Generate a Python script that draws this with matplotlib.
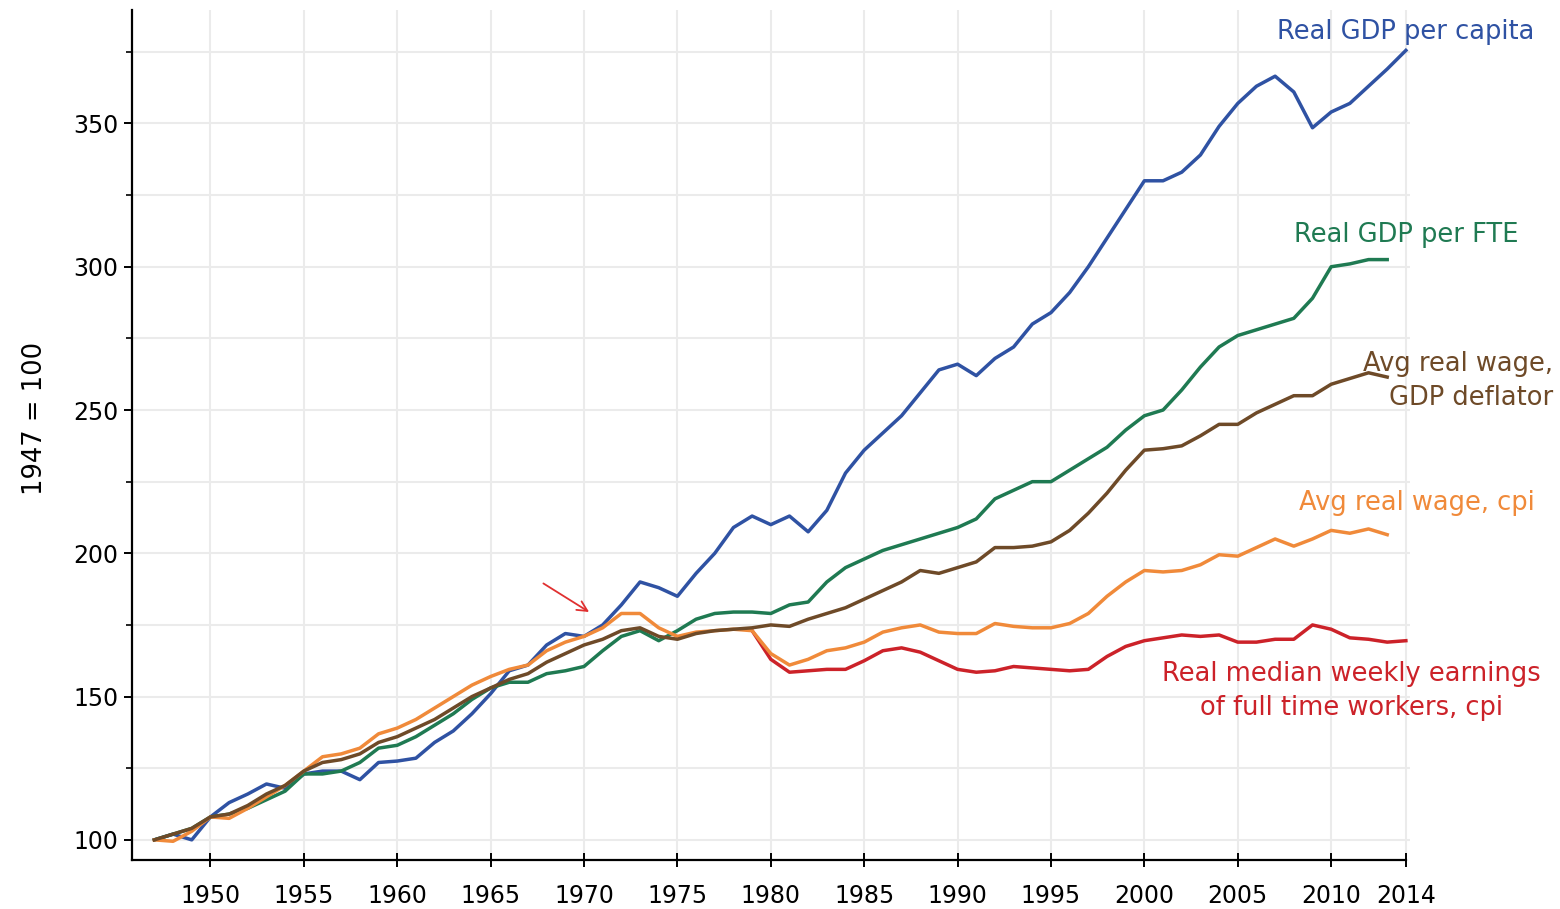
import numpy as np
import matplotlib
matplotlib.use('Agg')
import matplotlib.pyplot as plt
from matplotlib.ticker import MultipleLocator, FixedLocator

plt.rcParams['font.family'] = ['DejaVu Sans']

# years
years = list(range(1947, 2015))  # 1947..2014
years_wage = list(range(1947, 2014))  # 1947..2013
years_median = list(range(1979, 2015))  # 1979..2014

# Real GDP per capita (1947 = 100)
gdp_capita = [100, 102, 100, 108, 113, 116, 119.5, 118, 123, 124, 124, 121, 127, 127.5,
              128.5, 134, 138, 144, 151, 159, 161, 168, 172, 171, 175, 182, 190, 188,
              185, 193, 200, 209, 213, 210, 213, 207.5, 215, 228, 236, 242, 248, 256,
              264, 266, 262, 268, 272, 280, 284, 291, 300, 310, 320, 330, 330, 333,
              339, 349, 357, 363, 366.5, 361, 348.5, 354, 357, 363, 369, 375.5]

# Real GDP per FTE
gdp_fte = [100, 102, 104, 108, 109, 111, 114, 117, 123, 123, 124, 127, 132, 133,
           136, 140, 144, 149, 153, 155, 155, 158, 159, 160.5, 166, 171, 173, 169.5,
           173, 177, 179, 179.5, 179.5, 179, 182, 183, 190, 195, 198, 201, 203, 205,
           207, 209, 212, 219, 222, 225, 225, 229, 233, 237, 243, 248, 250, 257,
           265, 272, 276, 278, 280, 282, 289, 300, 301, 302.5, 302.5]

# Avg real wage, GDP deflator
wage_gdp = [100, 102, 104, 108, 109, 112, 116, 119, 124, 127, 128, 130, 134, 136,
            139, 142, 146, 150, 153, 156, 158, 162, 165, 168, 170, 173, 174, 171,
            170, 172, 173, 173.5, 174, 175, 174.5, 177, 179, 181, 184, 187, 190, 194,
            193, 195, 197, 202, 202, 202.5, 204, 208, 214, 221, 229, 236, 236.5, 237.5,
            241, 245, 245, 249, 252, 255, 255, 259, 261, 263, 261.5]

# Avg real wage, cpi
wage_cpi = [100, 99.5, 103, 108, 107.5, 111, 115, 119, 124, 129, 130, 132, 137, 139,
            142, 146, 150, 154, 157, 159.5, 161, 166, 169, 171, 174, 179, 179, 174,
            171, 172.5, 173, 173.5, 173, 165, 161, 163, 166, 167, 169, 172.5, 174, 175,
            172.5, 172, 172, 175.5, 174.5, 174, 174, 175.5, 179, 185, 190, 194, 193.5, 194,
            196, 199.5, 199, 202, 205, 202.5, 205, 208, 207, 208.5, 206.5]

# Real median weekly earnings of full time workers, cpi
median_weekly = [173, 163, 158.5, 159, 159.5, 159.5, 162.5, 166, 167, 165.5, 162.5, 159.5,
                 158.5, 159, 160.5, 160, 159.5, 159, 159.5, 164, 167.5, 169.5, 170.5, 171.5,
                 171, 171.5, 169, 169, 170, 170, 175, 173.5, 170.5, 170, 169, 169.5]

c_blue = '#2f52a3'
c_green = '#1f7a52'
c_brown = '#6e4a28'
c_orange = '#f08a3a'
c_red = '#cc2229'

fig = plt.figure(figsize=(15.6, 9.09), dpi=100)
ax = fig.add_axes([0.0846, 0.054, 0.819, 0.935])

lw = 2.5
ax.plot(years, gdp_capita, color=c_blue, lw=lw)
ax.plot(years_wage, gdp_fte, color=c_green, lw=lw)
ax.plot(years_median, median_weekly, color=c_red, lw=lw)
ax.plot(years_wage, wage_cpi, color=c_orange, lw=lw)
ax.plot(years_wage, wage_gdp, color=c_brown, lw=lw)

ax.set_xlim(1945.8, 2014.2)
ax.set_ylim(93, 389.6)

xt = list(range(1950, 2011, 5)) + [2014]
ax.xaxis.set_major_locator(FixedLocator(xt))
ax.set_xticklabels([str(x) for x in xt])
ax.yaxis.set_major_locator(MultipleLocator(50))
ax.yaxis.set_minor_locator(MultipleLocator(25))
ax.set_yticks([100, 150, 200, 250, 300, 350])

ax.grid(True, which='major', axis='x', color='#ebebeb', lw=1.5)
ax.grid(True, which='both', axis='y', color='#ebebeb', lw=1.5)
ax.set_axisbelow(True)

ax.spines['top'].set_visible(False)
ax.spines['right'].set_visible(False)
ax.spines['left'].set_linewidth(1.6)
ax.spines['bottom'].set_linewidth(1.6)
ax.spines['bottom'].set_bounds(1945.8, 2014)

ax.tick_params(axis='x', direction='inout', length=10, width=1.4, labelsize=17, pad=12)
ax.tick_params(axis='y', which='major', direction='out', length=6, width=1.4, labelsize=17, pad=4)
ax.tick_params(axis='y', which='minor', direction='out', length=4, width=1.2)

ax.set_ylabel('1947 = 100', fontsize=18.5)
ax.yaxis.set_label_coords(-0.066, 0.52)

# series labels
ax.text(2014.0, 382, 'Real GDP per capita', color=c_blue, fontsize=18.5, ha='center', va='center')
ax.text(2014.0, 311, 'Real GDP per FTE', color=c_green, fontsize=18.5, ha='center', va='center')
ax.text(2021.9, 260, 'Avg real wage,\nGDP deflator', color=c_brown, fontsize=18.5,
        ha='right', va='center', linespacing=1.4)
ax.text(2014.6, 217.5, 'Avg real wage, cpi', color=c_orange, fontsize=18.5, ha='center', va='center')
ax.text(2011.1, 152, 'Real median weekly earnings\nof full time workers, cpi', color=c_red,
        fontsize=18.5, ha='center', va='center', linespacing=1.4)

# arrow pointing to the early 1970s
ax.annotate('', xy=(1970.4, 179), xytext=(1967.7, 190),
            arrowprops=dict(arrowstyle='->', color='#e03030', lw=1.3, mutation_scale=18))

for t in ax.texts:
    t.set_clip_on(False)

plt.savefig('out.png', dpi=100)
